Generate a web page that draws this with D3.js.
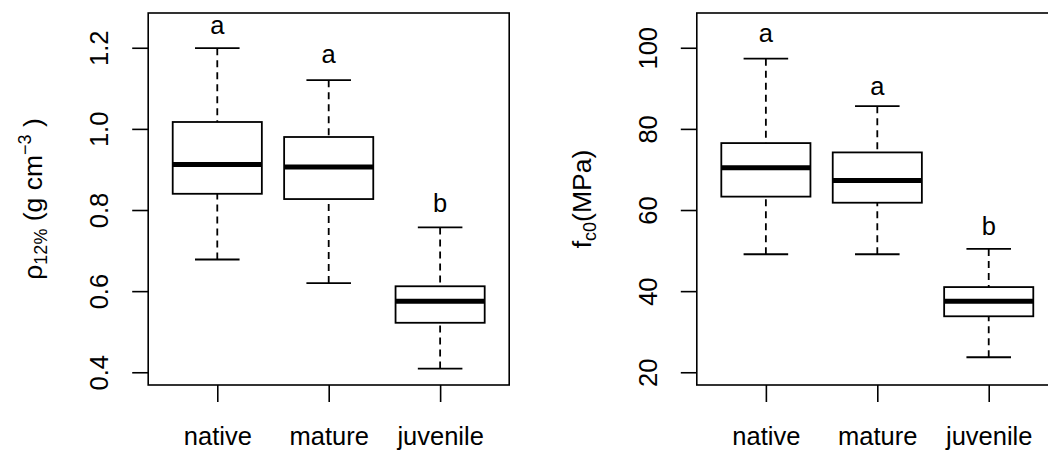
<!DOCTYPE html>
<html>
<head>
<meta charset="utf-8">
<script src="https://cdn.jsdelivr.net/npm/d3@7"></script>
<style>
  body { margin: 0; background: #fff; }
  text { font-family: "Liberation Sans", Arial, sans-serif; fill: #000; }
</style>
</head>
<body>
<svg id="chart"></svg>
<script>
// 图表尺寸
var width = 1048;
var height = 450;
var fontSize = "25.5px";
var subSize = "18px";

// 数据: 每组 [下须, Q1, 中位数, Q3, 上须]
var groups = ["native", "mature", "juvenile"];

var densityStats = [
  [0.678, 0.840, 0.912, 1.017, 1.199],
  [0.620, 0.827, 0.906, 0.980, 1.120],
  [0.409, 0.522, 0.575, 0.612, 0.757]
];
var densityLetters = ["a", "a", "b"];
var densityLetterY = [1.233, 1.162, 0.795];
var densityTicks = [0.4, 0.6, 0.8, 1.0, 1.2];

var strengthStats = [
  [49.1, 63.3, 70.4, 76.5, 97.3],
  [49.1, 61.8, 67.3, 74.2, 85.6],
  [23.7, 33.8, 37.5, 41.0, 50.4]
];
var strengthLetters = ["a", "a", "b"];
var strengthLetterY = [101.5, 88.3, 53.8];
var strengthTicks = [20, 40, 60, 80, 100];

var svg = d3.select("#chart")
    .attr("width", width)
    .attr("height", height);

// 画一个箱线图面板
function drawPanel(opt) {
    var top = 13, bottom = 385;
    var x = d3.scaleLinear()
        .domain([0.38, 3.62])
        .range([opt.left, opt.left + 361]);
    var y = d3.scaleLinear()
        .domain(opt.yDomain)
        .range([bottom, top]);

    var g = svg.append("g");

    // 箱子
    var boxHalf = (x(1.4) - x(1)); // 0.4 个单位
    var capHalf = boxHalf / 2;

    opt.stats.forEach(function(s, i) {
        var cx = x(i + 1);

        // 须线 (虚线)
        g.append("line")
            .attr("x1", cx).attr("x2", cx)
            .attr("y1", y(s[0])).attr("y2", y(s[1]))
            .attr("stroke", "#000").attr("stroke-width", 1.8)
            .style("stroke-dasharray", "7,5");
        g.append("line")
            .attr("x1", cx).attr("x2", cx)
            .attr("y1", y(s[4])).attr("y2", y(s[3]))
            .attr("stroke", "#000").attr("stroke-width", 1.8)
            .style("stroke-dasharray", "7,5");

        // 须端横线
        [s[0], s[4]].forEach(function(v) {
            g.append("line")
                .attr("x1", cx - capHalf).attr("x2", cx + capHalf)
                .attr("y1", y(v)).attr("y2", y(v))
                .attr("stroke", "#000").attr("stroke-width", 1.8);
        });

        // 箱体
        g.append("rect")
            .attr("x", cx - boxHalf)
            .attr("y", y(s[3]))
            .attr("width", boxHalf * 2)
            .attr("height", y(s[1]) - y(s[3]))
            .attr("fill", "#fff")
            .attr("stroke", "#000")
            .attr("stroke-width", 1.8);

        // 中位数
        g.append("line")
            .attr("x1", cx - boxHalf).attr("x2", cx + boxHalf)
            .attr("y1", y(s[2])).attr("y2", y(s[2]))
            .attr("stroke", "#000").attr("stroke-width", 5);

        // 显著性字母
        g.append("text")
            .attr("x", cx)
            .attr("y", y(opt.letterY[i]))
            .attr("text-anchor", "middle")
            .style("font-size", fontSize)
            .text(opt.letters[i]);
    });

    // 外框
    g.append("rect")
        .attr("x", opt.left)
        .attr("y", top)
        .attr("width", 361)
        .attr("height", bottom - top)
        .attr("fill", "none")
        .attr("stroke", "#000")
        .attr("stroke-width", 1.6);

    // x 轴
    var xAxis = g.append("g")
        .attr("transform", "translate(0," + bottom + ")")
        .call(d3.axisBottom(x)
            .tickValues([1, 2, 3])
            .tickSize(17)
            .tickPadding(0)
            .tickFormat(function(d) { return groups[d - 1]; }));
    xAxis.select(".domain").remove();
    xAxis.selectAll("line").attr("stroke", "#000").attr("stroke-width", 1.6);
    xAxis.selectAll("text")
        .attr("y", 60)
        .attr("dy", 0)
        .style("font-size", fontSize)
        .style("font-family", "'Liberation Sans', Arial, sans-serif")
        .attr("fill", "#000");

    // y 轴
    var yAxis = g.append("g")
        .attr("transform", "translate(" + opt.left + ",0)")
        .call(d3.axisLeft(y)
            .tickValues(opt.ticks)
            .tickSize(16)
            .tickFormat(opt.fmt));
    yAxis.select(".domain").remove();
    yAxis.selectAll("line").attr("stroke", "#000").attr("stroke-width", 1.6);
    yAxis.selectAll("text")
        .attr("transform", "rotate(-90)")
        .attr("x", 0)
        .attr("y", -40)
        .attr("dy", 0)
        .attr("text-anchor", "middle")
        .style("font-size", fontSize)
        .style("font-family", "'Liberation Sans', Arial, sans-serif")
        .attr("fill", "#000");

    // y 轴标题
    var title = svg.append("text")
        .attr("transform", "translate(" + (opt.left - 106) + "," + ((top + bottom) / 2) + ") rotate(-90)")
        .attr("text-anchor", "middle")
        .style("font-size", "26.5px");
    opt.title(title);
}

drawPanel({
    left: 148.2,
    stats: densityStats,
    letters: densityLetters,
    letterY: densityLetterY,
    ticks: densityTicks,
    fmt: d3.format(".1f"),
    yDomain: [0.3686, 1.2857],
    title: function(t) {
        t.append("tspan").text("ρ");
        t.append("tspan").attr("dy", 5).style("font-size", subSize).text("12%");
        t.append("tspan").attr("dy", -5).text(" (g cm");
        t.append("tspan").attr("dy", -11).style("font-size", subSize).text("−3");
        t.append("tspan").attr("dy", 11).text(" )");
    }
});

drawPanel({
    left: 696.8,
    stats: strengthStats,
    letters: strengthLetters,
    letterY: strengthLetterY,
    ticks: strengthTicks,
    fmt: d3.format("d"),
    yDomain: [16.86, 108.57],
    title: function(t) {
        t.append("tspan").text("f");
        t.append("tspan").attr("dy", 5).style("font-size", subSize).text("c0");
        t.append("tspan").attr("dy", -5).text("(MPa)");
    }
});
</script>
</body>
</html>
